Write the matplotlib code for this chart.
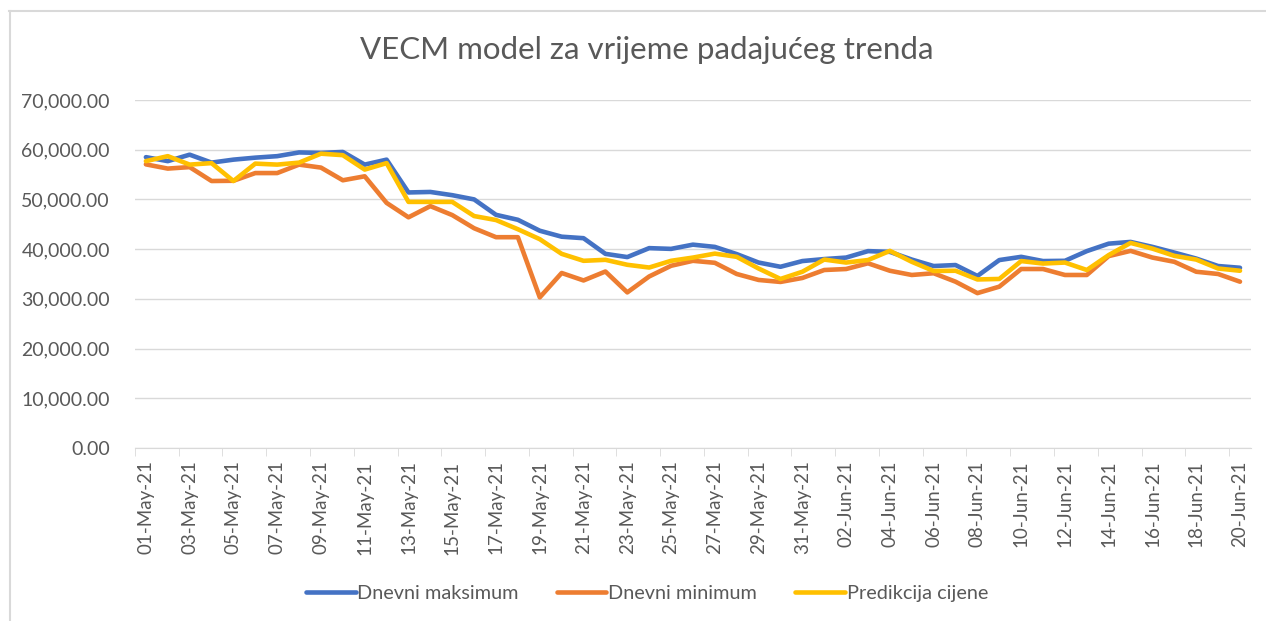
import matplotlib
matplotlib.use("Agg")
import matplotlib.pyplot as plt
import matplotlib.ticker as mticker
from matplotlib.lines import Line2D
import pandas as pd

plt.rcParams["font.family"] = ["Lato", "DejaVu Sans"]

# dates 01-May-21 .. 20-Jun-21
dates = pd.date_range("2021-05-01", "2021-06-20", freq="D")
labels = [d.strftime("%d-%b-%y") for d in dates]

dnevni_max = [
    58500, 57700, 59000, 57400, 58000, 58400, 58700, 59450, 59350, 59550,
    57000, 58000, 51400, 51500, 50850, 50000, 46900, 45900, 43700, 42500,
    42200, 39050, 38400, 40200, 40050, 40900, 40450, 39000, 37300, 36450,
    37600, 38000, 38300, 39600, 39450, 37900, 36600, 36800, 34600, 37800,
    38450, 37600, 37650, 39600, 41100, 41450, 40450, 39300, 38100, 36600,
    36250,
]
dnevni_min = [
    57050, 56200, 56500, 53700, 53750, 55300, 55300, 57000, 56400, 53850,
    54650, 49300, 46400, 48650, 46850, 44200, 42400, 42400, 30300, 35200,
    33700, 35500, 31300, 34500, 36650, 37650, 37250, 35000, 33800, 33400,
    34200, 35800, 36000, 37150, 35650, 34800, 35150, 33450, 31150, 32450,
    36000, 36000, 34800, 34800, 38600, 39650, 38300, 37450, 35450, 35000,
    33450,
]
predikcija = [
    57700, 58700, 57000, 57300, 53700, 57200, 57000, 57400, 59200, 58900,
    56000, 57300, 49500, 49500, 49500, 46650, 45850, 44000, 42000, 39050,
    37650, 37850, 36850, 36300, 37650, 38300, 39100, 38450, 36100, 34000,
    35450, 37900, 37300, 37800, 39650, 37450, 35600, 35650, 33900, 34000,
    37600, 37100, 37300, 35800, 38800, 41250, 40100, 38650, 37900, 36100,
    35650,
]
series_names = ["Dnevni maksimum", "Dnevni minimum", "Predikcija cijene"]
series_colors = ["#4472C4", "#ED7D31", "#FFC000"]

fig = plt.figure(figsize=(12.66, 6.21), dpi=100)
ax = fig.add_axes([0.1066, 0.2786, 0.8815, 0.5604])

x = range(len(labels))
for vals, name, col in zip([dnevni_max, dnevni_min, predikcija], series_names, series_colors):
    ax.plot(x, vals, color=col, lw=3.3, label=name, solid_capstyle="round")

ax.set_xlim(-0.5, len(labels) - 0.5)
ax.set_ylim(0, 70000)
ax.yaxis.set_major_locator(mticker.MultipleLocator(10000))
ax.yaxis.set_major_formatter(mticker.StrMethodFormatter("{x:,.2f}"))
ax.grid(axis="y", color="#d9d9d9", lw=1)
ax.set_axisbelow(True)

ax.set_xticks(list(x)[::2])
ax.set_xticklabels(labels[::2], rotation=90)
ax.set_xticks([i - 0.5 for i in range(0, len(labels) + 1, 2)], minor=True)
ax.tick_params(axis="x", which="major", length=0, pad=9, labelsize=13.5, labelcolor="#595959")
ax.tick_params(axis="x", which="minor", length=6, color="#d9d9d9")
ax.tick_params(axis="y", length=0, pad=18, labelsize=14, labelcolor="#595959")

for side in ["top", "right", "left"]:
    ax.spines[side].set_visible(False)
ax.spines["bottom"].set_color("#d9d9d9")

fig.suptitle("VECM model za vrijeme padajućeg trenda", x=0.511, y=0.942, fontsize=22.5, color="#595959")
fig.legend(loc="center", bbox_to_anchor=(0.511, 0.045), ncol=3, frameon=False,
           fontsize=14.3, labelcolor="#595959", handlelength=2.5, handletextpad=0.1,
           columnspacing=1.9)

# chart frame: top and left edges visible
fig.add_artist(Line2D([9 / 1266, 1], [1 - 11 / 621, 1 - 11 / 621], transform=fig.transFigure,
                      color="#d9d9d9", lw=1.5))
fig.add_artist(Line2D([10 / 1266, 10 / 1266], [0, 1 - 11 / 621], transform=fig.transFigure,
                      color="#d9d9d9", lw=1.5))

fig.savefig("out.png", dpi=100)
